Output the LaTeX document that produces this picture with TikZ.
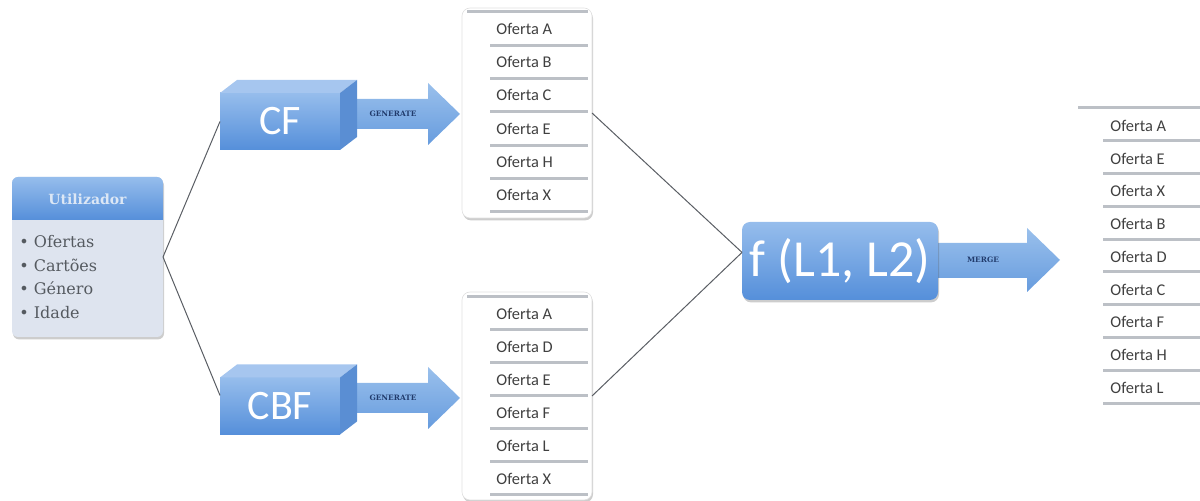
\documentclass[tikz,border=0pt]{standalone}
\usepackage{fontspec}
\setmainfont{Carlito}
\newfontfamily\cambriaish{DejaVu Serif}
\usetikzlibrary{shadows}

\definecolor{boxtop}{HTML}{96BDEC}
\definecolor{boxbot}{HTML}{558FDA}
\definecolor{facetop}{HTML}{A6C6EF}
\definecolor{faceside}{HTML}{5A8ED3}
\definecolor{arrowtop}{HTML}{9AC0EC}
\definecolor{arrowbot}{HTML}{679CDE}
\definecolor{userbody}{HTML}{DEE4EF}
\definecolor{usertitle}{HTML}{DCE7F5}
\definecolor{usertext}{HTML}{555A60}
\definecolor{itemtext}{HTML}{404040}
\definecolor{sepgray}{HTML}{BCC0C6}
\definecolor{labelnavy}{HTML}{213B6C}
\definecolor{connector}{HTML}{5A5E64}

\tikzset{
  softshadow/.style={drop shadow={shadow xshift=0.5pt, shadow yshift=-1.2pt, opacity=0.28, fill=black!70}},
  bluegrad/.style={top color=boxtop, bottom color=boxbot, draw=none},
  blockface/.style={bluegrad, inner sep=0pt, outer sep=0pt, minimum width=60pt, minimum height=28.5pt,
    text=white, font=\fontsize{21}{24}\selectfont},
  topface/.style={fill=facetop},
  sideface/.style={fill=faceside},
  fatarrow/.style={top color=arrowtop, bottom color=arrowbot, draw=none},
  arrowlabel/.style={text=labelnavy, font=\cambriaish\bfseries\fontsize{3.7}{4.5}\selectfont, inner sep=0pt},
  listbox/.style={fill=white, draw=black!12, line width=0.3pt, rounded corners=4pt,
    minimum width=65pt, inner sep=0pt, outer sep=0pt, softshadow},
  sepline/.style={draw=sepgray, line width=1.5pt},
  item/.style={anchor=west, text=itemtext, font=\fontsize{8.2}{9.5}\selectfont, inner sep=0pt},
  conn/.style={draw=connector, line width=0.5pt},
}

\begin{document}
\begin{tikzpicture}[x=0.5pt, y=-0.5pt]
\useasboundingbox (0,0) rectangle (1200,501);

% ---------- user profile card ----------
\node[fill=userbody, rounded corners=3pt, minimum width=75.5pt, minimum height=80pt,
      inner sep=0pt, outer sep=0pt, softshadow] (user) at (87.5,257) {};
\begin{scope}
  \clip[rounded corners=3pt] (user.north west) rectangle (user.south east);
  \shade[bluegrad] (user.north west) rectangle ++(151,43);
\end{scope}
\node[text=usertitle, font=\cambriaish\bfseries\fontsize{7}{8}\selectfont] (usertitlelbl) at (87.5,199) {Utilizador};
\node[anchor=west, align=left, inner sep=0pt, text=usertext,
      font=\cambriaish\fontsize{8}{11.85}\selectfont] (userattrs) at (19,277)
      {• Ofertas\\• Cartões\\• Género\\• Idade};

% ---------- CF block and its arrow ----------
\shade[fatarrow] (340,99) -- (428,99) -- (428,83) -- (460,114) -- (428,145) -- (428,129) -- (340,129) -- cycle;
\node[arrowlabel] (gen1) at (393,114) {GENERATE};
\node[blockface] (cf) at (280,121.5) {CF};
\fill[topface] (cf.north west) -- ++(17,-13) -- ++(120,0) -- (cf.north east) -- cycle;
\fill[sideface] (cf.north east) -- ++(17,-13) -- ++(0,57) -- (cf.south east) -- cycle;

% ---------- CBF block and its arrow ----------
\shade[fatarrow] (340,383) -- (428,383) -- (428,367) -- (460,398) -- (428,429) -- (428,413) -- (340,413) -- cycle;
\node[arrowlabel] (gen2) at (393,398) {GENERATE};
\node[blockface] (cbf) at (280,406) {CBF};
\fill[topface] (cbf.north west) -- ++(17,-13) -- ++(120,0) -- (cbf.north east) -- cycle;
\fill[sideface] (cbf.north east) -- ++(17,-13) -- ++(0,57) -- (cbf.south east) -- cycle;

% ---------- list produced by CF ----------
\node[listbox, minimum height=105pt] (l1) at (527,113) {};
\draw[sepline] (467,12) -- (588,12);
\foreach \k in {1,...,6} \draw[sepline] (490,12+33.33*\k) -- (588,12+33.33*\k);
\foreach \t [count=\k from 0] in {A,B,C,E,H,X}
  \node[item] (l1i\k) at (496,28.7+33.33*\k) {Oferta \t};

% ---------- list produced by CBF ----------
\node[listbox, minimum height=104pt] (l2) at (527,396) {};
\draw[sepline] (467,297) -- (588,297);
\foreach \k in {1,...,6} \draw[sepline] (490,297+33*\k) -- (588,297+33*\k);
\foreach \t [count=\k from 0] in {A,D,E,F,L,X}
  \node[item] (l2i\k) at (496,313.5+33*\k) {Oferta \t};

% ---------- merge function ----------
\shade[fatarrow] (937,243) -- (1027,243) -- (1027,228) -- (1060,260) -- (1027,292) -- (1027,278) -- (937,278) -- cycle;
\node[arrowlabel] (mergelbl) at (983,260) {MERGE};
\node[bluegrad, rounded corners=4pt, minimum width=98pt, minimum height=39pt, inner sep=0pt, outer sep=0pt,
      text=white, font=\fontsize{26}{30}\selectfont, softshadow] (f) at (840,261) {f (L1, L2)};

% ---------- merged list ----------
\draw[sepline] (1078,108) -- (1200,108);
\foreach \k in {1,...,9} \draw[sepline] (1103,108+32.8*\k) -- (1200,108+32.8*\k);
\foreach \t [count=\k from 0] in {A,E,X,B,D,C,F,H,L}
  \node[item] (l3i\k) at (1110,126+32.7*\k) {Oferta \t};

% ---------- connectors ----------
\draw[conn] (user.east) -- (cf.west);
\draw[conn] (user.east) -- (cbf.170);
\draw[conn] (l1.east) -- (f.175);
\draw[conn] (l2.east) -- (f.175);
\end{tikzpicture}
\end{document}
